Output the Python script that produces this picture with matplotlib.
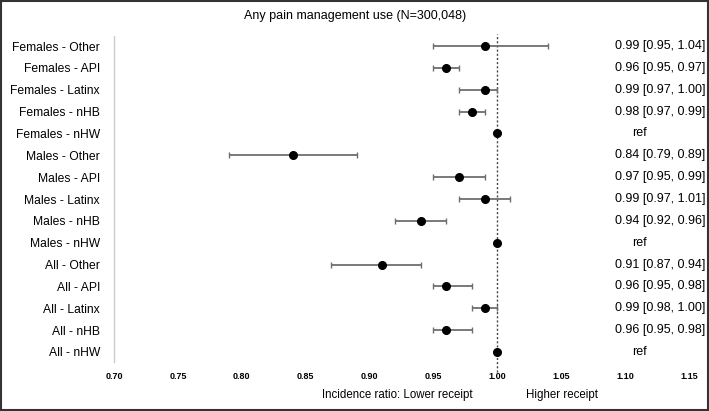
import matplotlib
matplotlib.use("Agg")
import matplotlib.pyplot as plt
from matplotlib.patches import Rectangle

plt.rcParams['font.family'] = ['Liberation Sans', 'DejaVu Sans']

labels = ["Females - Other", "Females - API", "Females - Latinx", "Females - nHB", "Females - nHW",
          "Males - Other", "Males - API", "Males - Latinx", "Males - nHB", "Males - nHW",
          "All - Other", "All - API", "All - Latinx", "All - nHB", "All - nHW"]
estimates = [0.99, 0.96, 0.99, 0.98, 1.00,
             0.84, 0.97, 0.99, 0.94, 1.00,
             0.91, 0.96, 0.99, 0.96, 1.00]
lower = [0.95, 0.95, 0.97, 0.97, None,
         0.79, 0.95, 0.97, 0.92, None,
         0.87, 0.95, 0.98, 0.95, None]
upper = [1.04, 0.97, 1.00, 0.99, None,
         0.89, 0.99, 1.01, 0.96, None,
         0.94, 0.98, 1.00, 0.98, None]
xticks = [0.70, 0.75, 0.80, 0.85, 0.90, 0.95, 1.00, 1.05, 1.10, 1.15]
title = "Any pain management use (N=300,048)"

fig = plt.figure(figsize=(7.09, 4.11), dpi=100)
ax = fig.add_axes([114/709, 1-362/411, (689-114)/709, (362-36)/411])

n = len(labels)
ys = [n - 1 - i for i in range(n)]

for y, est, lo, hi in zip(ys, estimates, lower, upper):
    if lo is not None:
        ax.errorbar(est, y, xerr=[[est - lo], [hi - est]], fmt='none',
                    ecolor='#6e6e6e', elinewidth=1.3, capsize=2.5, capthick=1.0, zorder=2)
    ax.plot(est, y, 'o', color='black', markersize=5.5, zorder=3)
    if lo is None:
        ax.text(1.1116, y, "ref", ha='center', va='center', fontsize=9)
    else:
        txt = f"{est:.2f} [{lo:.2f}, {hi:.2f}]"
        ax.text(1.1273, y, txt, ha='center', va='center', fontsize=9)

ax.plot([1.0, 1.0], [-0.9, 14.55], linestyle=(0, (1.5, 1.5)), color='#444444',
        linewidth=1.0, clip_on=False, zorder=1)

ax.set_xlim(0.70, 1.15)
ax.set_ylim(-0.46, 14.46)
ax.set_yticks(ys)
ax.set_yticklabels(labels, fontsize=8.7)
ax.set_xticks(xticks)
ax.set_xticklabels([f"{t:.2f}" for t in xticks], fontsize=6.5, fontweight='bold')
ax.tick_params(axis='both', length=0)
ax.tick_params(axis='y', pad=10)
ax.tick_params(axis='x', pad=7)
for s in ['top', 'right', 'bottom']:
    ax.spines[s].set_visible(False)
ax.spines['left'].set_color('#cccccc')
ax.spines['left'].set_linewidth(1.0)

fig.text(355/709, 1-16/411, title, ha='center', va='center', fontsize=9)
fig.text(397/709, 1-395/411, "Incidence ratio: Lower receipt", ha='center', va='center', fontsize=8.3)
fig.text(562/709, 1-395/411, "Higher receipt", ha='center', va='center', fontsize=8.3)

fig.patches.append(Rectangle((0.0015, 0.0025), 0.997, 0.995, transform=fig.transFigure,
                             fill=False, edgecolor='#333333', linewidth=1.5))

fig.savefig("out.png", dpi=100)
